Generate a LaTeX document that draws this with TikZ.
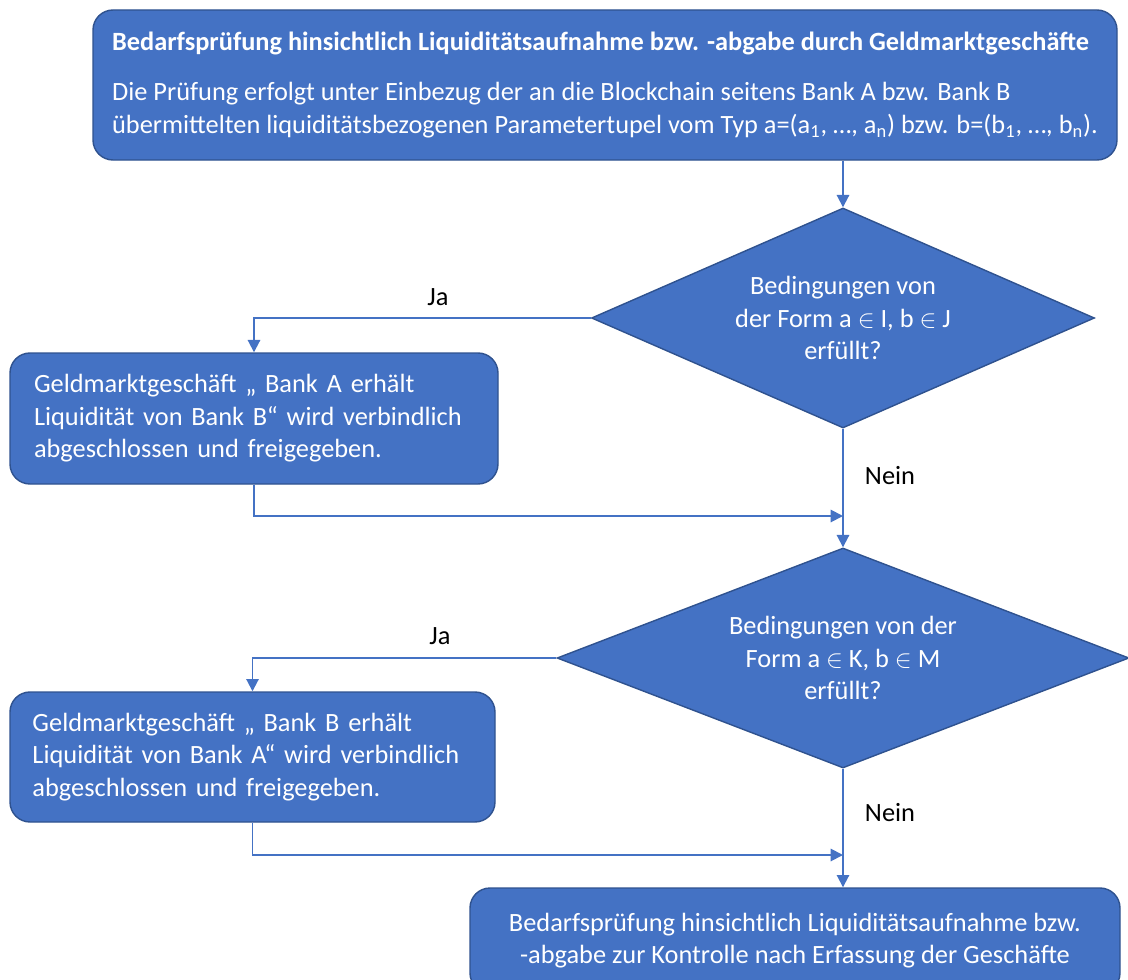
\documentclass[tikz,border=0pt]{standalone}
\usepackage{fontspec}
\setmainfont{Carlito}
\usetikzlibrary{shapes.geometric,arrows.meta}
\definecolor{boxblue}{HTML}{4472C4}
\definecolor{boxline}{HTML}{2F528F}
\tikzset{
  flowbox/.style={draw=boxline, line width=0.8pt, fill=boxblue, text=white, rounded corners=0.4cm, font=\fontsize{15}{18.5}\selectfont},
  decision/.style={diamond, draw=boxline, line width=0.8pt, fill=boxblue, text=white, inner sep=0pt, align=center, font=\fontsize{15}{18.5}\selectfont},
  conn/.style={draw=boxblue, line width=1.1pt},
  arr/.style={conn, -{Triangle[length=7pt,width=7pt]}},
  lbl/.style={font=\fontsize{15}{18}\selectfont}
}
\begin{document}
\begin{tikzpicture}
\useasboundingbox (0,0) rectangle (22.56,-19.6);
\clip (0,0) rectangle (22.56,-19.6);
\node[flowbox, minimum width=20.48cm, minimum height=3cm, align=left] (top) at (12.1,-1.7)
  {\textbf{Bedarfsprüfung hinsichtlich Liquiditätsaufnahme bzw. -abgabe durch Geldmarktgeschäfte}\\[10pt]
   Die Prüfung erfolgt unter Einbezug der an die Blockchain seitens Bank A bzw. Bank B\\
   übermittelten liquiditätsbezogenen Parametertupel vom Typ a=(a\textsubscript{1}, \dots, a\textsubscript{n}) bzw. b=(b\textsubscript{1}, \dots, b\textsubscript{n}).};
\node[decision, aspect=2.3, minimum width=10.06cm, minimum height=4.4cm] (d1) at (16.86,-6.36)
  {Bedingungen von\\der Form a $\in$ I, b $\in$ J\\erfüllt?};
\node[flowbox, minimum width=9.76cm, minimum height=2.62cm, text width=8.8cm, align=left] (ok1) at (5.08,-8.37)
  {Geldmarktgeschäft „ Bank A erhält\\Liquidität von Bank B“ wird verbindlich\\abgeschlossen und freigegeben.};
\node[decision, aspect=2.6, minimum width=11.44cm, minimum height=4.4cm] (d2) at (16.86,-13.16)
  {Bedingungen von der\\Form a $\in$ K, b $\in$ M\\erfüllt?};
\node[flowbox, minimum width=9.7cm, minimum height=2.6cm, text width=8.8cm, align=left] (ok2) at (5.05,-15.14)
  {Geldmarktgeschäft „ Bank B erhält\\Liquidität von Bank A“ wird verbindlich\\abgeschlossen und freigegeben.};
\node[flowbox, minimum width=13cm, minimum height=2.1cm, align=center] (fin) at (15.9,-18.81)
  {Bedarfsprüfung hinsichtlich Liquiditätsaufnahme bzw.\\-abgabe zur Kontrolle nach Erfassung der Geschäfte};
\coordinate (j1) at (16.86,-10.32);
\coordinate (j2) at (16.86,-17.1);
\draw[arr] (top.south -| d1.north) -- (d1.north);
\draw[arr] (d1.west) -| (ok1.north);
\draw[arr] (d1.south) -- (d2.north);
\draw[arr] (ok1.south) |- (j1);
\draw[arr] (d2.west) -| (ok2.north);
\draw[arr] (d2.south) -- (d2.south |- fin.north);
\draw[arr] (ok2.south) |- (j2);
\node[lbl] (ja1) at (8.76,-5.94) {Ja};
\node[lbl] (nein1) at (17.8,-9.52) {Nein};
\node[lbl] (ja2) at (8.8,-12.72) {Ja};
\node[lbl] (nein2) at (17.8,-16.26) {Nein};
\end{tikzpicture}
\end{document}
